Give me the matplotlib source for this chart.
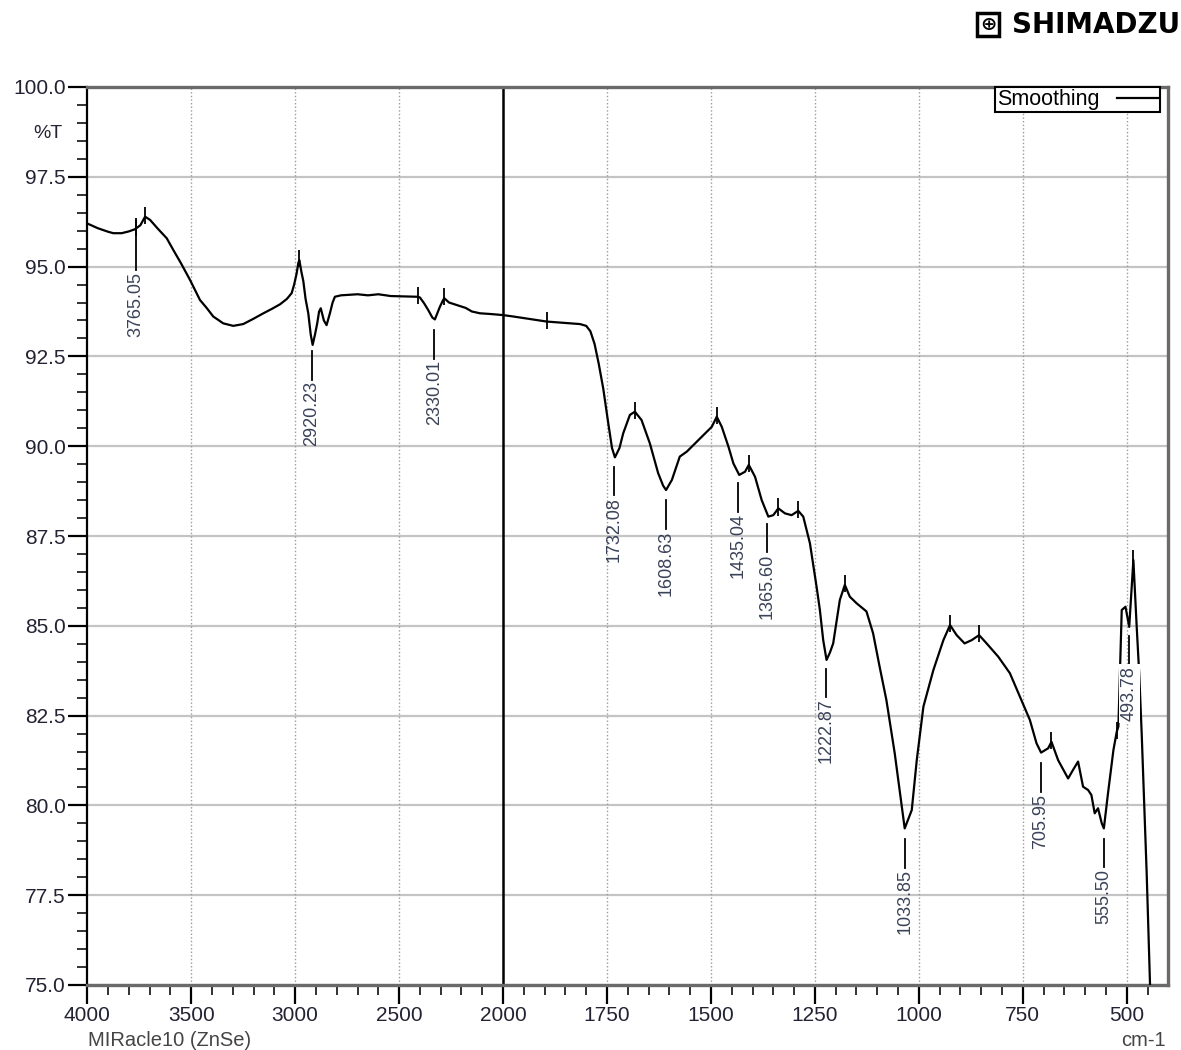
import numpy as np
import matplotlib
matplotlib.use("Agg")
import matplotlib.pyplot as plt
from matplotlib.ticker import FixedLocator, FixedFormatter
from matplotlib.patches import Rectangle

plt.rcParams['font.family'] = ['Liberation Sans', 'DejaVu Sans']

# ---------------- data ----------------
wavenumber = [4000, 3950, 3900, 3875, 3835, 3800, 3771, 3745, 3722, 3698, 3660, 3618, 3586,
              3550, 3506, 3458, 3426, 3394, 3346, 3298, 3250, 3200, 3153, 3110, 3073, 3040,
              3017, 3005, 2993, 2985, 2980, 2970, 2961, 2950, 2937, 2925, 2916, 2905, 2894,
              2885, 2877, 2862, 2849, 2840, 2833, 2820, 2809, 2780, 2752, 2700, 2650, 2600,
              2540, 2480, 2433, 2410, 2400, 2380, 2360, 2340, 2328, 2315, 2304, 2290, 2283,
              2260, 2223, 2180, 2150, 2111, 2060, 2000, 1975, 1940, 1895, 1850, 1815, 1800,
              1790, 1780, 1770, 1759, 1747, 1738, 1731, 1720, 1711, 1695, 1683, 1667, 1647,
              1627, 1615, 1608, 1594, 1575, 1558, 1526, 1498, 1486, 1474, 1458, 1446, 1432,
              1418, 1409, 1394, 1378, 1362, 1350, 1338, 1322, 1306, 1290, 1278, 1262, 1246,
              1238, 1230, 1222, 1214, 1206, 1190, 1178, 1166, 1150, 1126, 1110, 1095, 1078,
              1058, 1042, 1034, 1017, 1005, 989, 965, 941, 925, 909, 890, 873, 855, 837, 809,
              781, 757, 733, 717, 706, 689, 681, 665, 641, 629, 617, 605, 593, 585, 577, 569,
              560, 555, 545, 532, 524, 520, 516, 512, 503, 494, 484, 476, 470, 464, 452, 440]
transmittance = [96.20, 96.07, 95.97, 95.93, 95.93, 95.98, 96.04, 96.15, 96.39, 96.30, 96.05,
                 95.79, 95.46, 95.10, 94.63, 94.07, 93.85, 93.61, 93.42, 93.35, 93.40, 93.55,
                 93.70, 93.83, 93.95, 94.10, 94.26, 94.50, 94.81, 95.10, 95.18, 94.85, 94.60,
                 94.10, 93.70, 93.10, 92.82, 93.10, 93.42, 93.75, 93.84, 93.50, 93.37, 93.55,
                 93.70, 94.00, 94.16, 94.20, 94.21, 94.23, 94.20, 94.23, 94.18, 94.17, 94.16,
                 94.16, 94.14, 93.98, 93.79, 93.58, 93.53, 93.72, 93.88, 94.05, 94.12, 94.00,
                 93.93, 93.85, 93.75, 93.70, 93.68, 93.65, 93.61, 93.55, 93.47, 93.43, 93.40,
                 93.35, 93.20, 92.85, 92.30, 91.60, 90.64, 89.95, 89.69, 89.95, 90.36, 90.87,
                 90.96, 90.73, 90.08, 89.25, 88.90, 88.78, 89.06, 89.71, 89.85, 90.22, 90.54,
                 90.82, 90.54, 89.99, 89.52, 89.20, 89.29, 89.48, 89.15, 88.50, 88.04, 88.08,
                 88.27, 88.13, 88.08, 88.20, 88.04, 87.30, 86.09, 85.44, 84.60, 84.05, 84.25,
                 84.51, 85.72, 86.14, 85.81, 85.63, 85.40, 84.79, 83.90, 82.93, 81.45, 80.06,
                 79.36, 79.87, 81.26, 82.75, 83.77, 84.60, 85.02, 84.74, 84.51, 84.60, 84.74,
                 84.51, 84.14, 83.68, 83.03, 82.38, 81.73, 81.47, 81.59, 81.77, 81.26, 80.75,
                 80.99, 81.22, 80.52, 80.43, 80.29, 79.78, 79.92, 79.50, 79.36, 80.34, 81.54,
                 82.05, 82.20, 83.86, 85.44, 85.53, 84.97, 86.83, 84.97, 83.68, 82.00, 78.11,
                 73.50]

peak_labels = [3765.05, 2920.23, 2330.01, 1732.08, 1608.63, 1435.04, 1365.60,
               1222.87, 1033.85, 705.95, 555.50, 493.78]
peak_marks = [3765.05, 3722, 2980, 2410, 2283, 1895, 1683, 1486, 1409, 1338, 1290,
              1178, 925, 855, 681, 524, 484]

x_major = [4000, 3500, 3000, 2500, 2000, 1750, 1500, 1250, 1000, 750, 500]
y_major = [75.0, 77.5, 80.0, 82.5, 85.0, 87.5, 90.0, 92.5, 95.0, 97.5, 100.0]

# ---------------- figure ----------------
W, H = 1181, 1050
fig = plt.figure(figsize=(W / 100, H / 100), dpi=100)
ax = fig.add_axes([87.3 / W, 1 - 985 / H, 1081 / W, 898 / H])


def fwd(x):
    x = np.asarray(x, dtype=float)
    return np.where(x >= 2000, x - 2000, 2.0 * (x - 2000))


def inv(u):
    u = np.asarray(u, dtype=float)
    return np.where(u >= 0, u + 2000, u / 2.0 + 2000)


ax.set_xscale('function', functions=(fwd, inv))
ax.set_xlim(4000, 400)
ax.set_ylim(75, 100)

# grid
for yv in y_major:
    ax.axhline(yv, color='#c4c4c4', lw=1.6, zorder=0)
for xv in x_major:
    if xv not in (4000, 2000):
        ax.axvline(xv, color='#9a9a9a', lw=1.0, ls=(0, (1, 1.6)), zorder=0)
ax.axvline(2000, color='black', lw=1.8, zorder=1)

# spectrum
wn = np.array(wavenumber, dtype=float)
tr = np.array(transmittance, dtype=float)
line, = ax.plot(wn, tr, color='black', lw=1.6, label='Smoothing', zorder=3)


def curve_at(x):
    return np.interp(x, wn[::-1], tr[::-1])


# small peak marks on the curve
pm = np.array(peak_marks, dtype=float)
yc = curve_at(pm)
ax.vlines(pm, yc - 0.2, yc + 0.28, color='black', lw=1.3, zorder=4)

# peak labels
for p in peak_labels:
    yv = float(curve_at(p))
    if p > 3700:
        y0, y1 = yv + 0.2, 94.9
    else:
        y0, y1 = yv - 0.3, yv - 1.1
    ax.plot([p, p], [y0, y1], color='black', lw=1.3, zorder=4)
    kw = {}
    if p < 500:
        kw['bbox'] = dict(facecolor='white', edgecolor='none', pad=1.5)
    ax.text(p, y1 - 0.04, f'{p:.2f}', rotation=90, ha='center', va='top',
            fontsize=13, color='#3a4258', zorder=5, **kw)

# ticks
x_minor = [v for v in list(range(3900, 2000, -100)) + list(range(1950, 400, -50))
           if v not in x_major]
ax.xaxis.set_major_locator(FixedLocator(x_major))
ax.xaxis.set_major_formatter(FixedFormatter([str(v) for v in x_major]))
ax.xaxis.set_minor_locator(FixedLocator(x_minor))
ax.yaxis.set_major_locator(FixedLocator(y_major))
ax.yaxis.set_major_formatter(FixedFormatter([f'{v:.1f}' for v in y_major]))
ax.yaxis.set_minor_locator(FixedLocator(list(np.arange(75.5, 100, 0.5))))

ax.tick_params(axis='both', which='major', direction='out', length=14, width=1.6,
               color='black', labelsize=15, labelcolor='#222233')
ax.tick_params(axis='both', which='minor', direction='out', length=7.5, width=1.3,
               color='#222222')
ax.tick_params(axis='x', which='major', pad=1)
ax.tick_params(axis='y', which='major', pad=1.5)

for s in ('top', 'right', 'bottom'):
    ax.spines[s].set_color('#6a6a6a')
    ax.spines[s].set_linewidth(2.4)
ax.spines['left'].set_color('black')
ax.spines['left'].set_linewidth(1.6)

# legend
leg = ax.legend(handles=[line], loc='upper right', bbox_to_anchor=(0.9923, 1.0),
                borderaxespad=0, fancybox=False, edgecolor='black', framealpha=1,
                fontsize=15.5, markerfirst=False, handlelength=1.9, handletextpad=0.8,
                borderpad=0.1)
leg.get_frame().set_linewidth(1.5)

# surrounding texts
fig.text(48 / W, 1 - 133 / H, '%T', ha='center', va='center', fontsize=14, color='#222233')
fig.text(88 / W, 1 - 1040 / H, 'MIRacle10 (ZnSe)', ha='left', va='center', fontsize=14.5,
         color='#444444')
fig.text(1166 / W, 1 - 1040 / H, 'cm-1', ha='right', va='center', fontsize=14.5,
         color='#444444')

# logo
fig.patches.append(Rectangle((977 / W, 1 - 36 / H), 22 / W, 23 / H, transform=fig.transFigure,
                             facecolor='white', edgecolor='black', lw=2.5))
fig.text(988 / W, 1 - 24.5 / H, '\u2295', ha='center', va='center', fontsize=14,
         fontfamily='DejaVu Sans', fontweight='bold')
fig.text(1012 / W, 1 - 25 / H, 'SHIMADZU', ha='left', va='center', fontsize=20,
         fontfamily='DejaVu Sans', fontweight='bold')

fig.savefig('out.png', dpi=100)
